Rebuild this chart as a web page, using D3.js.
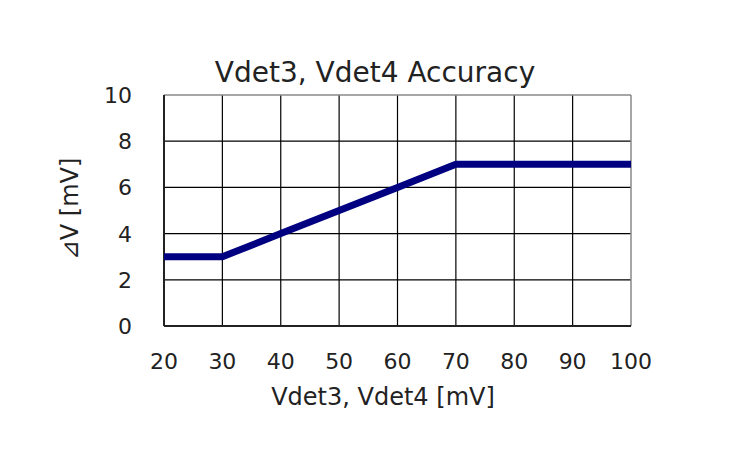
<!DOCTYPE html>
<html><head><meta charset="utf-8">
<script src="https://cdn.jsdelivr.net/npm/d3@7"></script>
<style>body{margin:0;background:#fff}svg{display:block}text{font-family:"DejaVu Sans",sans-serif;fill:#222}</style>
</head><body><svg id="c" width="754" height="473"></svg>
<script>
const xValues=[20,30,40,50,60,70,80,90,100];
const yValues=[3,3,4,5,6,7,7,7,7];
const xTicks=[20,30,40,50,60,70,80,90,100];
const yTicks=[0,2,4,6,8,10];
const title="Vdet3, Vdet4 Accuracy";
const xTitle="Vdet3, Vdet4 [mV]";
const yTitle="⊿V [mV]";

const svg=d3.select("#c");
const x=d3.scaleLinear().domain([20,100]).range([164,631]);
const y=d3.scaleLinear().domain([0,10]).range([326,95]);

const g=svg.append("g");
// grid
g.selectAll("line.vx").data(xTicks.slice(1,-1)).join("line")
 .attr("x1",d=>x(d)).attr("x2",d=>x(d)).attr("y1",y(0)).attr("y2",y(10))
 .attr("stroke","#000").attr("stroke-width",1.2);
g.selectAll("line.hy").data(yTicks.slice(1,-1)).join("line")
 .attr("y1",d=>y(d)).attr("y2",d=>y(d)).attr("x1",x(20)).attr("x2",x(100))
 .attr("stroke","#000").attr("stroke-width",1.2);
// border
g.append("line").attr("x1",x(20)).attr("x2",x(100)).attr("y1",y(10)).attr("y2",y(10)).attr("stroke","#888").attr("stroke-width",1.5);
g.append("line").attr("x1",x(100)).attr("x2",x(100)).attr("y1",y(10)).attr("y2",y(0)).attr("stroke","#888").attr("stroke-width",1.5);
g.append("line").attr("x1",x(20)).attr("x2",x(20)).attr("y1",y(10)).attr("y2",y(0)).attr("stroke","#222").attr("stroke-width",2);
g.append("line").attr("x1",x(20)).attr("x2",x(100)).attr("y1",y(0)).attr("y2",y(0)).attr("stroke","#222").attr("stroke-width",2);

// line
const data=xValues.map((v,i)=>[v,yValues[i]]);
g.append("path").datum(data).attr("fill","none").attr("stroke","#000080").attr("stroke-width",7)
 .attr("stroke-linejoin","round")
 .attr("d",d3.line().x(d=>x(d[0])).y(d=>y(d[1])));

// tick labels
g.selectAll("text.xt").data(xTicks).join("text").attr("x",d=>x(d)).attr("y",369)
 .attr("text-anchor","middle").attr("font-size",22).text(d=>d);
g.selectAll("text.yt").data(yTicks).join("text").attr("x",132).attr("y",d=>y(d)+8)
 .attr("text-anchor","end").attr("font-size",22).text(d=>d);
svg.append("text").attr("x",375).attr("y",82).attr("text-anchor","middle").attr("font-size",28).text(title);
svg.append("text").attr("x",383).attr("y",405).attr("text-anchor","middle").attr("font-size",24).text(xTitle);
svg.append("text").attr("transform","translate(78,209) rotate(-90)").attr("text-anchor","middle").attr("font-size",24).text(yTitle);
</script></body></html>
